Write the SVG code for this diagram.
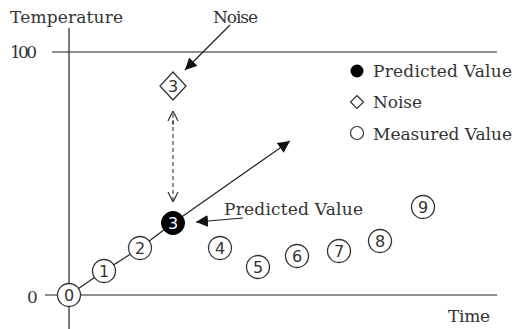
<svg xmlns="http://www.w3.org/2000/svg" width="518" height="329" viewBox="0 0 518 329">
<defs>
<marker id="ah" viewBox="0 0 10 10" refX="10" refY="5" markerWidth="12" markerHeight="12" markerUnits="userSpaceOnUse" orient="auto">
<path d="M0,0 L10,5 L0,10 z" fill="#111"/>
</marker>
<marker id="open" viewBox="0 0 10 10" refX="10" refY="5" markerWidth="10" markerHeight="12" markerUnits="userSpaceOnUse" orient="auto">
<path d="M0,0 L10,5 L0,10" fill="none" stroke="#333" stroke-width="1.2"/>
</marker>
</defs>
<style>
.t{font-family:"DejaVu Serif","Liberation Serif",serif;font-size:17px;fill:#333}
.n{font-family:"DejaVu Sans","Liberation Sans",sans-serif;font-size:16px;fill:#333;text-anchor:middle}
.c{fill:#fff;stroke:#333;stroke-width:1.3}
.ax{stroke:#222;stroke-width:1.2;fill:none}
.ln{stroke:#222;stroke-width:1.2;fill:none}
</style>
<rect width="518" height="329" fill="#fff"/>
<g id="axes">
<line class="ax" x1="69" y1="28" x2="69" y2="329"/>
<line class="ax" x1="52" y1="52" x2="497" y2="52"/>
<line class="ax" x1="45" y1="295" x2="497" y2="295"/>
<text class="t" x="10" y="23" textLength="113">Temperature</text>
<text class="t" x="10" y="58" textLength="27">100</text>
<text class="t" x="27" y="303">0</text>
<text class="t" x="448" y="322" textLength="42">Time</text>
</g>
<g id="connectors">
<line class="ln" x1="69" y1="295" x2="104" y2="271"/>
<line class="ln" x1="104" y1="271" x2="140" y2="248"/>
<line class="ln" x1="140" y1="248" x2="173" y2="223"/>
<line class="ln" x1="173" y1="223" x2="290" y2="141" marker-end="url(#ah)"/>
<line class="ln" x1="230" y1="25" x2="185" y2="70" marker-end="url(#ah)"/>
<line class="ln" x1="243" y1="218" x2="196" y2="222" marker-end="url(#ah)"/>
<line stroke="#333" stroke-width="1.1" stroke-dasharray="4,3" x1="173" y1="125" x2="173" y2="111" marker-end="url(#open)"/>
<line stroke="#333" stroke-width="1.1" stroke-dasharray="4,3" x1="173" y1="120" x2="173" y2="202" marker-end="url(#open)"/>
</g>
<g id="label-noise"><text class="t" x="213" y="23" textLength="45">Noise</text></g>
<g id="label-predicted"><text class="t" x="224" y="215" textLength="139">Predicted Value</text></g>
<g id="noise3"><path class="c" d="M173,72 L186,86 L173,100 L160,86 z"/><text class="n" x="173" y="91.5">3</text></g>
<g id="m0"><circle class="c" cx="69" cy="295" r="11.5"/><text class="n" x="69" y="301">0</text></g>
<g id="m1"><circle class="c" cx="104" cy="271" r="11.5"/><text class="n" x="104" y="277">1</text></g>
<g id="m2"><circle class="c" cx="140" cy="248" r="11.5"/><text class="n" x="140" y="254">2</text></g>
<g id="p3"><circle cx="173" cy="223" r="11.5" fill="#000" stroke="#000"/><text class="n" x="173" y="229" style="fill:#fff">3</text></g>
<g id="m4"><circle class="c" cx="220" cy="248" r="11.5"/><text class="n" x="220" y="254">4</text></g>
<g id="m5"><circle class="c" cx="258" cy="267" r="11.5"/><text class="n" x="258" y="273">5</text></g>
<g id="m6"><circle class="c" cx="297" cy="256" r="11.5"/><text class="n" x="297" y="262">6</text></g>
<g id="m7"><circle class="c" cx="339" cy="251" r="11.5"/><text class="n" x="339" y="257">7</text></g>
<g id="m8"><circle class="c" cx="380" cy="241" r="11.5"/><text class="n" x="380" y="247">8</text></g>
<g id="m9"><circle class="c" cx="423" cy="207" r="11.5"/><text class="n" x="423" y="213">9</text></g>
<g id="legend">
<circle cx="357" cy="71" r="6.5" fill="#000"/>
<text class="t" x="373" y="77" textLength="139">Predicted Value</text>
<path d="M357,95.5 L363.5,102 L357,108.5 L350.5,102 z" fill="#fff" stroke="#333" stroke-width="1.2"/>
<text class="t" x="373" y="108" textLength="49">Noise</text>
<circle cx="357" cy="133" r="6.5" fill="#fff" stroke="#333" stroke-width="1.2"/>
<text class="t" x="373" y="140" textLength="139">Measured Value</text>
</g>
</svg>
